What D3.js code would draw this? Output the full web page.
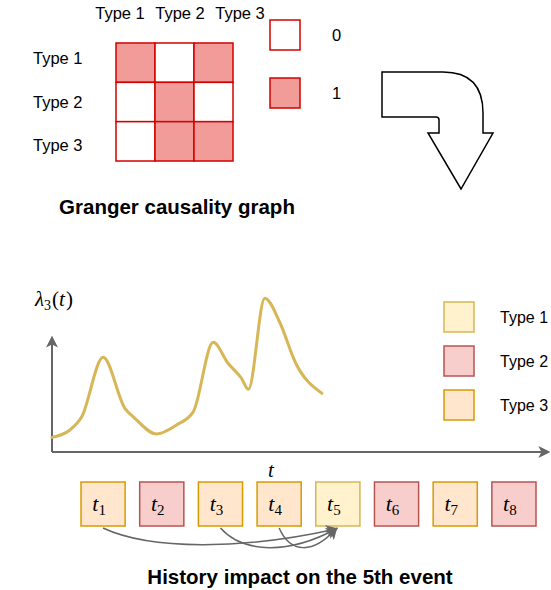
<!DOCTYPE html>
<html>
<head>
<meta charset="utf-8">
<script src="https://cdn.jsdelivr.net/npm/d3@7"></script>
<style>
body { margin: 0; background: #fff; }
text { font-family: "Liberation Sans", Arial, sans-serif; }
.math { font-family: "Liberation Serif", "DejaVu Serif", serif; font-style: italic; }
</style>
</head>
<body>
<script>
// granger matrix
var types = ["Type 1", "Type 2", "Type 3"];
var granger = [[1, 0, 1],
               [0, 1, 0],
               [0, 1, 1]];
var binLabels = ["0", "1"];

// intensity curve lambda_3(t)
var curveT = [0, 3.6, 6.0, 10.3, 14.7, 16.7, 21.1, 25.1, 28.5, 32.5, 35.5, 38.2, 39.6, 42.9, 46.0, 49.0, 54.4];
var curveL = [0.95, 1.43, 2.29, 6.15, 2.84, 2.19, 1.17, 1.75, 2.62, 7.12, 5.76, 4.79, 4.07, 9.98, 8.36, 5.86, 3.81];

// event sequence
var eventType = [3, 2, 3, 3, 1, 2, 3, 2];
var histIdx = [1, 3, 4];   // events pointing to the 5th
var target = 5;

var fills = {1: "#fff2cc", 2: "#f8cecc", 3: "#ffe6cc"};
var strokes = {1: "#d6b656", 2: "#b85450", 3: "#d79b00"};

var svg = d3.select("body").append("svg")
    .attr("width", 551).attr("height", 590);

var defs = svg.append("defs");
defs.append("marker").attr("id", "ah")
    .attr("viewBox", "0 0 10 10").attr("refX", 8).attr("refY", 5)
    .attr("markerWidth", 12).attr("markerHeight", 12)
    .attr("markerUnits", "userSpaceOnUse").attr("orient", "auto")
  .append("path").attr("d", "M0,0 L10,5 L0,10 L2.5,5 Z").attr("fill", "#666");

// ---------- granger matrix ----------
var gx = d3.scaleBand().domain(d3.range(3)).range([116, 233]);
var gy = d3.scaleBand().domain(d3.range(3)).range([43, 161]);

var cells = [];
granger.forEach(function(row, i){
    row.forEach(function(v, j){ cells.push({r: i, c: j, v: v}); });
});
svg.append("g").selectAll("rect").data(cells).enter().append("rect")
    .attr("x", function(d){ return gx(d.c); })
    .attr("y", function(d){ return gy(d.r); })
    .attr("width", gx.bandwidth()).attr("height", gy.bandwidth())
    .attr("fill", function(d){ return d.v ? "#f19c99" : "#fff"; })
    .attr("stroke", "#d40000").attr("stroke-width", 1.5);

svg.append("g").selectAll("text").data(types).enter().append("text")
    .attr("x", function(d, i){ return 120 + i * 60; })
    .attr("y", 19)
    .attr("text-anchor", "middle")
    .style("font-size", "16.5px")
    .text(function(d){ return d; });

var rowY = d3.scalePoint().domain(types).range([58, 145]);
svg.append("g").selectAll("text").data(types).enter().append("text")
    .attr("x", 33)
    .attr("y", function(d){ return rowY(d) + 6; })
    .style("font-size", "16.5px")
    .text(function(d){ return d; });

var binY = d3.scalePoint().domain(binLabels).range([20, 78]);
var bin = svg.append("g").selectAll("g").data(binLabels).enter().append("g");
bin.append("rect")
    .attr("x", 270).attr("y", function(d){ return binY(d); })
    .attr("width", 30).attr("height", 30)
    .attr("fill", function(d){ return d === "1" ? "#f19c99" : "#fff"; })
    .attr("stroke", "#d40000").attr("stroke-width", 1.5);
bin.append("text")
    .attr("x", 332).attr("y", function(d){ return binY(d) + 21; })
    .style("font-size", "16.5px")
    .text(function(d){ return d; });

svg.append("text")
    .attr("x", 177).attr("y", 214)
    .attr("text-anchor", "middle")
    .style("font-size", "20.5px").style("font-weight", "700")
    .text("Granger causality graph");

// ---------- bent arrow ----------
svg.append("path")
    .attr("d", "M382,72 L443,72 Q483,72 483,113 L483,133 L493,133 L461,189 L428,133 L439,133 L439,120 Q439,117 436,117 L382,117 Z")
    .attr("fill", "#fff").attr("stroke", "#000").attr("stroke-width", 1.5)
    .attr("stroke-linejoin", "miter");

// ---------- intensity chart ----------
var x = d3.scaleLinear().domain([0, 100]).range([52, 548]);
var y = d3.scaleLinear().domain([0, 10]).range([452, 298]);

svg.append("line")
    .attr("x1", x(0)).attr("y1", y(0)).attr("x2", x(0)).attr("y2", 338)
    .attr("stroke", "#666").attr("stroke-width", 2).attr("marker-end", "url(#ah)");
svg.append("line")
    .attr("x1", x(0)).attr("y1", y(0)).attr("x2", 548).attr("y2", y(0))
    .attr("stroke", "#666").attr("stroke-width", 2).attr("marker-end", "url(#ah)");

var line = d3.line()
    .x(function(d){ return x(d[0]); })
    .y(function(d){ return y(d[1]); })
    .curve(d3.curveMonotoneX);
svg.append("path")
    .datum(d3.zip(curveT, curveL))
    .attr("d", line)
    .attr("fill", "none").attr("stroke", "#d6b656").attr("stroke-width", 3)
    .attr("stroke-linejoin", "round").attr("stroke-linecap", "round");

var lam = svg.append("text").attr("class", "math").attr("x", 35).attr("y", 306).style("font-size", "21px");
lam.append("tspan").text("λ");
lam.append("tspan").attr("dy", 4).style("font-size", "14px").style("font-style", "normal").text("3");
lam.append("tspan").attr("dy", -4).attr("dx", 1).style("font-style", "normal").text("(");
lam.append("tspan").text("t");
lam.append("tspan").attr("dx", 1).style("font-style", "normal").text(")");

svg.append("text").attr("class", "math")
    .attr("x", 271).attr("y", 477).attr("text-anchor", "middle")
    .style("font-size", "21px").text("t");

// legend
var legY = d3.scalePoint().domain([1, 2, 3]).range([302, 390]);
var leg = svg.append("g").selectAll("g").data([1, 2, 3]).enter().append("g");
leg.append("rect")
    .attr("x", 444).attr("y", function(d){ return legY(d); })
    .attr("width", 30).attr("height", 30)
    .attr("fill", function(d){ return fills[d]; })
    .attr("stroke", function(d){ return strokes[d]; }).attr("stroke-width", 1.5);
leg.append("text")
    .attr("x", 500).attr("y", function(d){ return legY(d) + 21; })
    .style("font-size", "16px")
    .text(function(d){ return "Type " + d; });

// ---------- event boxes ----------
var ex = d3.scaleBand().domain(d3.range(1, 9)).range([81, 536]).paddingInner(0.248).paddingOuter(0);
var ev = svg.append("g").selectAll("g").data(eventType).enter().append("g");
ev.append("rect")
    .attr("x", function(d, i){ return ex(i + 1); })
    .attr("y", 482)
    .attr("width", ex.bandwidth()).attr("height", 44)
    .attr("fill", function(d){ return fills[d]; })
    .attr("stroke", function(d){ return strokes[d]; }).attr("stroke-width", 1.5);
var lbl = ev.append("text").attr("class", "math")
    .attr("x", function(d, i){ return ex(i + 1) + ex.bandwidth() / 2 - 4; })
    .attr("y", 511)
    .attr("text-anchor", "middle")
    .style("font-size", "22px");
lbl.append("tspan").text("t");
lbl.append("tspan").attr("dy", 4).style("font-size", "15px").style("font-style", "normal")
    .text(function(d, i){ return i + 1; });

// history arrows
var tx = ex(target) + ex.bandwidth() / 2 - 2;
var sags = {1: 22, 3: 26, 4: 26};
svg.append("g").selectAll("path").data(histIdx).enter().append("path")
    .attr("d", function(s){
        var sx = ex(s) + ex.bandwidth() / 2;
        var sag = sags[s];
        return "M" + sx + ",528 C" + (sx + (tx - sx) * 0.2) + "," + (528 + sag) + " " +
            (sx + (tx - sx) * 0.6) + "," + (528 + sag) + " " + tx + ",529";
    })
    .attr("fill", "none").attr("stroke", "#666").attr("stroke-width", 1.5)
    .attr("marker-end", "url(#ah)");

svg.append("text")
    .attr("x", 300).attr("y", 584)
    .attr("text-anchor", "middle")
    .style("font-size", "20.5px").style("font-weight", "700")
    .text("History impact on the 5th event");
</script>
</body>
</html>
